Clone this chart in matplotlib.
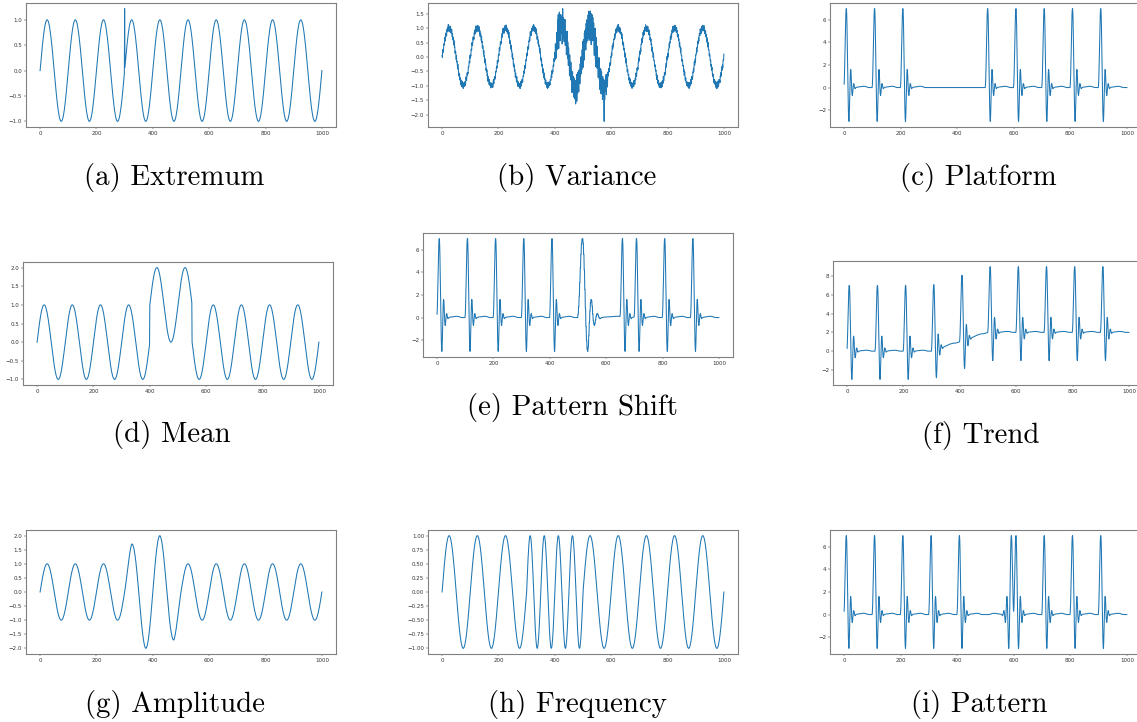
import numpy as np
import matplotlib
matplotlib.use("Agg")
import matplotlib.pyplot as plt
from matplotlib.ticker import MultipleLocator, FuncFormatter

# ---------------------------------------------------------------------------
# Series definitions (samples 0..1000)
# ---------------------------------------------------------------------------
n_samples = 1001
t = np.arange(n_samples)
sine_period = 100
sine_amplitude = 1.0

# one heartbeat-like cycle (100 samples)
beat_template = [
    0.30, 0.95, 1.90, 3.10, 4.40, 5.60, 6.50, 6.95, 7.00, 6.60,
    5.60, 4.20, 2.50, 0.80, -0.80, -2.00, -2.80, -3.00, -2.60, -1.60,
    -0.40, 0.60, 1.30, 1.60, 1.50, 1.00, 0.30, -0.30, -0.60, -0.70,
    -0.50, -0.20, 0.10, 0.30, 0.35, 0.30, 0.15, 0.00, -0.08, -0.10,
    -0.06, -0.02, 0.00, 0.01, 0.02, 0.03, 0.03, 0.04, 0.04, 0.05,
    0.05, 0.05, 0.06, 0.06, 0.06, 0.07, 0.07, 0.07, 0.08, 0.08,
    0.08, 0.09, 0.09, 0.10, 0.10, 0.10, 0.11, 0.11, 0.11, 0.11,
    0.11, 0.11, 0.11, 0.10, 0.10, 0.09, 0.09, 0.08, 0.07, 0.06,
    0.05, 0.04, 0.03, 0.02, 0.02, 0.01, 0.01, 0.00, 0.00, 0.00,
    0.00, 0.00, 0.00, 0.00, 0.00, 0.00, 0.00, 0.00, 0.00, 0.00,
]

# (a) extremum
spike_index = 300
spike_value = 1.22

# (b) variance: small measurement noise everywhere, strong noise in a window
small_noise = [5, -8, 12, -4, 1, -10, 8, 3, -7, 13, -3, -9, 4, 10, -5, 0, -12, 7, -1, 9,
               -8, 3, 14, -4, -7, 5, -13, 8, 1, -3, 10, -9, 4, -5, 12, 0, -8, 7, -10, 3,
               9, -1, -7, 13, -4, 5, -12, 1, 8, -3, -9, 10, -5, 4, 0, -8, 12, -1, 7, -10,
               3, -4, 9, -7, 5, 1, -12, 8, -3, 4, -8, 13, -5, 0, 7, -9, 3, 10, -4, -1,
               8, -7, 5, -10, 1, 12, -3, -8, 4, 9, -5, 0, -9, 7, 3, -4, 10]
noisy_start = 400
strong_noise = [
    12, -25, 38, -10, 5, -42, 20, 33, -15, 8,
    55, -20, 85, 10, -35, 25, 70, -5, 30, -28,
    15, 55, -30, 22, -8, 35, -45, 18, 60, -12,
    -25, 30, 5, -40, 28, -15, 45, -30, 10, -20,
    35, -50, 15, -10, 40, -35, 20, -5, -45, 30,
    -20, 10, -55, 25, -30, 5, -40, 20, -15, -35,
    15, -60, -10, 30, -45, -5, 20, -50, 10, -30,
    -55, 25, -20, 5, -60, 15, -35, 30, -50, -10,
    20, -40, 35, -25, 10, -45, 40, -15, 25, -30,
    45, -20, 15, 50, -35, 30, -10, 40, -25, 20,
    55, -30, 40, 10, -45, 60, -15, 35, -5, 50,
    -40, 65, 20, -25, 55, -10, 45, -35, 60, 15,
    -30, 70, -20, 50, -45, 25, 60, -15, 40, -50,
    35, -25, 55, -40, 20, 65, -30, 10, 45, -20,
    -45, 30, -15, 50, -35, 15, -55, 40, -10, 25,
    -40, 55, -25, 10, -50, 35, -20, 45, -30, 5,
    -45, 20, -15, 35, -50, 10, 40, -30, 25, -55,
    15, -35, 30, -20, -45, -118, 20, -40, 10, -25,
    30, -15, 25, -35, 10, -20, 15, -10, 8, -5,
]

# (c) platform: beats kept at these starts, zero elsewhere
platform_beats = [0, 100, 200, 500, 600, 700, 800, 900]

# (d) mean shift
mean_window = [400, 550]
mean_offset = 1.0

# (e) pattern shift: beat starts and time-stretch of each beat
shift_beats = [0, 100, 200, 300, 400, 500, 650, 700, 800, 900]
shift_stretch = [1, 1, 1, 1, 1, 2, 1, 1, 1, 1]

# (f) trend: linear baseline rise
trend_window = [300, 500]
trend_rise = 2.0

# (g) amplitude envelope knots
amp_knots_x = [0, 300, 325, 375, 425, 475, 500, 1000]
amp_knots_y = [1.0, 1.0, 1.7, 2.0, 2.0, 1.7, 1.0, 1.0]

# (h) frequency: faster window
fast_window = [300, 500]
fast_period = 50

# (i) pattern: beat at this start is time-reversed
normal_beats = [0, 100, 200, 300, 400, 500, 600, 700, 800, 900]
reversed_beat = 500

captions = ["(a) Extremum", "(b) Variance", "(c) Platform",
            "(d) Mean", "(e) Pattern Shift", "(f) Trend",
            "(g) Amplitude", "(h) Frequency", "(i) Pattern"]

y_steps = [0.5, 0.5, 2, 0.5, 2, 2, 0.5, 0.25, 2]
y_formats = ["%.1f", "%.1f", "%d", "%.1f", "%d", "%d", "%.1f", "%.2f", "%d"]


# ---------------------------------------------------------------------------
# Build series
# ---------------------------------------------------------------------------
def base_sine():
    return sine_amplitude * np.sin(2 * np.pi * t / sine_period)


def place_beats(starts, stretches=None, reverse_at=None):
    y = np.zeros(n_samples)
    tpl = np.asarray(beat_template)
    for k, s in enumerate(starts):
        shape = tpl
        if stretches is not None and stretches[k] != 1:
            shape = np.repeat(tpl, stretches[k])
        if reverse_at is not None and s == reverse_at:
            shape = tpl[::-1]
        m = min(len(shape), n_samples - s)
        y[s:s + m] = shape[:m]
    return y


series = []

y = base_sine()
y[spike_index] = spike_value
series.append(y)

y = base_sine() + np.resize(np.asarray(small_noise) / 100.0, n_samples)
sn = np.asarray(strong_noise) / 100.0
y[noisy_start:noisy_start + len(sn)] += sn
series.append(y)

series.append(place_beats(platform_beats))

y = base_sine()
y[mean_window[0]:mean_window[1]] += mean_offset
series.append(y)

series.append(place_beats(shift_beats, shift_stretch))

trend = np.clip((t - trend_window[0]) / (trend_window[1] - trend_window[0]), 0, 1) * trend_rise
series.append(place_beats(normal_beats) + trend)

series.append(np.interp(t, amp_knots_x, amp_knots_y) * base_sine())

y = base_sine()
w = slice(fast_window[0], fast_window[1])
y[w] = sine_amplitude * np.sin(2 * np.pi * (t[w] - fast_window[0]) / fast_period)
series.append(y)

series.append(place_beats(normal_beats, reverse_at=reversed_beat))

# ---------------------------------------------------------------------------
# Layout (pixel boxes: left, right, top, bottom) and caption anchors
# ---------------------------------------------------------------------------
W, H = 1137, 722
boxes = [
    (26, 336, 3, 127), (428, 738, 3, 127), (830, 1141, 3, 127),
    (23, 333, 262, 385), (423, 733, 233, 357), (833, 1143, 261, 385),
    (26, 336, 530, 654), (428, 738, 530, 654), (830, 1141, 530, 654),
]
caption_xy = [
    (174, 185), (577, 185), (978, 185),
    (172, 442), (572, 415), (981, 443),
    (175, 712), (577, 712), (979, 712),
]

fig = plt.figure(figsize=(W / 100, H / 100), dpi=100)
fig.patch.set_facecolor("white")

for k in range(9):
    l, r, tp, bt = boxes[k]
    ax = fig.add_axes([l / W, 1 - bt / H, (r - l) / W, (bt - tp) / H])
    ax.plot(t, series[k], color="#1f77b4", lw=0.75)
    ax.set_xticks([0, 200, 400, 600, 800, 1000])
    ax.yaxis.set_major_locator(MultipleLocator(y_steps[k]))
    ax.yaxis.set_major_formatter(FuncFormatter(
        lambda v, p, f=y_formats[k]: (f % v).replace("-", "\u2212")))
    ax.tick_params(labelsize=4.0, length=1.4, width=0.35, pad=1.3,
                   colors="#333333")
    for sp in ax.spines.values():
        sp.set_color("#808080")
        sp.set_linewidth(0.8)

    cx, cy = caption_xy[k]
    fig.text(cx / W, 1 - cy / H, captions[k], family="cmr10", fontsize=20.8,
             ha="center", va="baseline", color="black")

fig.savefig("out.png", dpi=100, facecolor="white")
